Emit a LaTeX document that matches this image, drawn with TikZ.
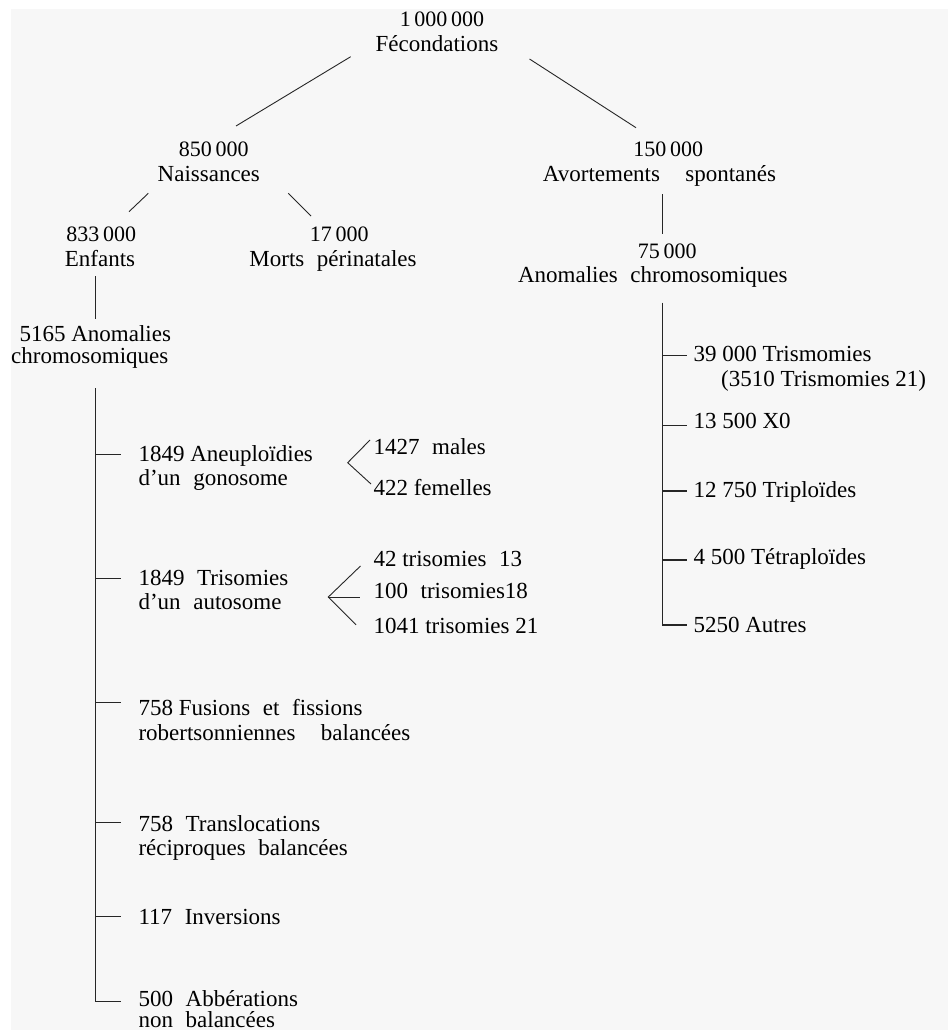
\documentclass[tikz,border=0pt]{standalone}
\usepackage{fontspec}
\setmainfont{Liberation Serif}
\newcommand{\wsp}{\hspace{0.55em}}
\newcommand{\tsp}{\kern0.17em}
\begin{document}
\begin{tikzpicture}[x=1pt,y=-1pt,
  lbl/.style={inner sep=0pt,anchor=base,font=\fontsize{23}{24.5}\selectfont},
  num/.style={inner sep=0pt,anchor=base,font=\fontsize{22}{24.5}\selectfont},
  item/.style={inner sep=0pt,anchor=base west,font=\fontsize{23}{24.5}\selectfont},
  link/.style={draw=black!85,line width=0.9pt},
  trunk/.style={draw=black!85,line width=1.1pt}]
% page and light grey sheet
\useasboundingbox (0,0) rectangle (948,1030);
\fill[white] (0,0) rectangle (948,1030);
\fill[black!3] (11,9) rectangle (948,1030);
\clip (0,0) rectangle (948,1030);

% ---- upper tree ----
\node[num] (fecA) at (442,26.7) {1\tsp000\tsp000};
\node[lbl] (fecB) at (437,51.7) {Fécondations};
\node[num] (naisA) at (213.7,156.7) {850\tsp000};
\node[lbl] (naisB) at (208.8,181.7) {Naissances};
\node[num] (avA) at (668.3,156.7) {150\tsp000};
\node[lbl] (avB) at (659.5,181.7) {Avortements\wsp\wsp spontanés};
\node[num] (enfA) at (101.3,241.7) {833\tsp000};
\node[lbl] (enfB) at (100,266.7) {Enfants};
\node[num] (mortA) at (339.2,241.7) {17\tsp000};
\node[lbl] (mortB) at (333,266.7) {Morts\wsp périnatales};
\node[num] (acA) at (667.2,258.3) {75\tsp000};
\node[lbl] (acB) at (652.8,282.3) {Anomalies\wsp chromosomiques};
\node[lbl] (ecA) at (95.3,341.7) {5165 Anomalies};
\node[lbl] (ecB) at (89.8,363.3) {chromosomiques};

\coordinate (fecL) at (350.7,56.7);  \coordinate (naisT) at (236,126);
\coordinate (fecR) at (529.5,59);    \coordinate (avT) at (636,127.7);
\coordinate (naisL) at (148.3,193.3); \coordinate (enfT) at (129,211.7);
\coordinate (naisR) at (288.3,193.3); \coordinate (mortT) at (311,216);
\coordinate (avD) at (662.3,194.3);   \coordinate (acT) at (662.3,234);
\coordinate (enfD) at (95.7,276);     \coordinate (ecT) at (95.7,319.3);

\draw[link] (fecL) -- (naisT);
\draw[link] (fecR) -- (avT);
\draw[link] (naisL) -- (enfT);
\draw[link] (naisR) -- (mortT);
\draw[link] (avD) -- (acT);
\draw[link] (enfD) -- (ecT);

% ---- anomalies at birth ----
\node[item] (g1) at (138.3,461) {1849 Aneuploïdies};
\node[item] (g2) at (138.3,485) {d'un\wsp gonosome};
\node[item] (t1) at (138.3,585.7) {1849\wsp Trisomies};
\node[item] (t2) at (138.3,609.3) {d'un\wsp autosome};
\node[item] (f1) at (138.3,715.7) {758 Fusions\wsp et\wsp fissions};
\node[item] (f2) at (138.3,740) {robertsonniennes\wsp\wsp balancées};
\node[item] (r1) at (138.3,831.7) {758\wsp Translocations};
\node[item] (r2) at (138.3,855) {réciproques\wsp balancées};
\node[item] (i1) at (138.3,924.3) {117\wsp Inversions};
\node[item] (a1) at (138.3,1006) {500\wsp Abbérations};
\node[item] (a2) at (138.3,1027.5) {non\wsp balancées};

\node[item] (gm) at (373.3,454.3) {1427\wsp males};
\node[item] (gf) at (373.3,495) {422 femelles};
\node[item] (s13) at (373.3,566.7) {42 trisomies\wsp 13};
\node[item] (s18) at (373.3,598.3) {100\wsp trisomies18};
\node[item] (s21) at (373.3,633.3) {1041 trisomies 21};

\coordinate (lTop) at (95.7,388.3);
\coordinate (lBot) at (95.7,1001.7);
\coordinate (lEnd) at (120.7,1001.7);
\draw[trunk] (lTop) -- (lBot) -- (lEnd);
\foreach \y/\n in {454.3/g, 578.3/t, 702.7/f, 822.3/r, 916.7/i}{
  \coordinate (l\n) at (95.7,\y);
  \coordinate (l\n e) at (121,\y);
  \draw[trunk] (l\n) -- (l\n e);
}

% forks towards the detailed counts
\coordinate (gv) at (347.7,462.7);
\coordinate (gvm) at (370,440);
\coordinate (gvf) at (371,484);
\draw[link] (gvm) -- (gv) -- (gvf);
\coordinate (tv) at (328.3,597);
\coordinate (tv13) at (360.5,566);
\coordinate (tv18) at (360,597);
\coordinate (tv21) at (356,624.8);
\draw[link] (tv13) -- (tv) -- (tv21);
\draw[link] (tv) -- (tv18);

% ---- anomalies in miscarriages ----
\node[item] (m1) at (693.3,361.7) {39 000 Trismomies};
\node[item] (m1b) at (721,386) {(3510 Trismomies 21)};
\node[item] (m2) at (693.3,428.5) {13 500 X0};
\node[item] (m3) at (693.3,497.7) {12 750 Triploïdes};
\node[item] (m4) at (693.3,564.3) {4 500 Tétraploïdes};
\node[item] (m5) at (693.3,632.7) {5250 Autres};

\coordinate (rTop) at (662.3,302.7);
\coordinate (rBot) at (662.3,625);
\coordinate (rEnd) at (686.7,625);
\draw[trunk] (rTop) -- (rBot) -- (rEnd);
\foreach \y/\n in {355.3/a, 425.7/b, 491/c, 560/d}{
  \coordinate (r\n) at (662.3,\y);
  \coordinate (r\n e) at (686.7,\y);
  \draw[trunk] (r\n) -- (r\n e);
}
\end{tikzpicture}
\end{document}
